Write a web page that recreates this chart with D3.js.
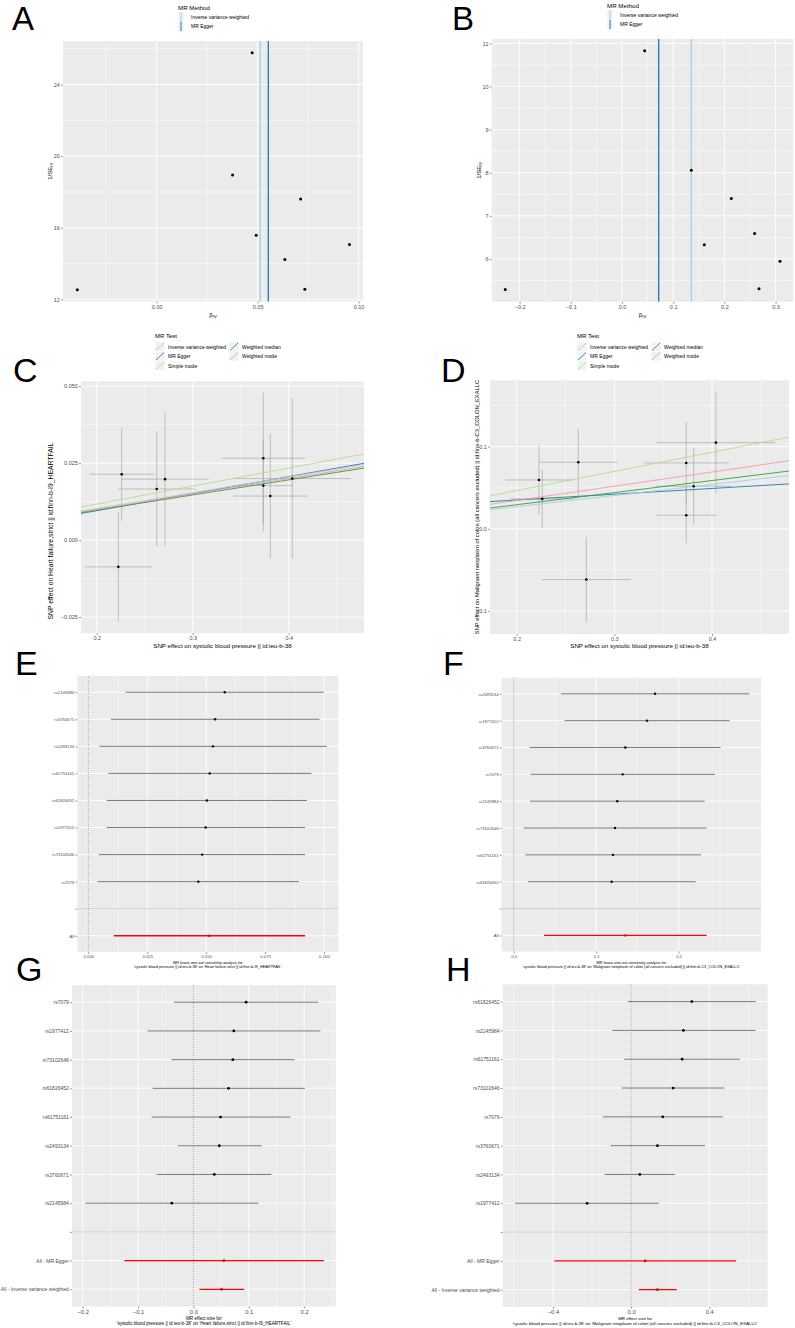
<!DOCTYPE html>
<html><head><meta charset="utf-8">
<script src="https://cdn.jsdelivr.net/npm/d3@7"></script>
<style>
body{margin:0;background:#fff}
svg{display:block}
text{font-family:"Liberation Sans",Arial,Helvetica,sans-serif}
</style>
</head><body>
<script>
// ================= DATA =================
const methods = ["Inverse variance weighted","MR Egger","Simple mode","Weighted median","Weighted mode"];
const methodColors = ["#a6cee3","#1f78b4","#b2df8a","#33a02c","#fb9a99"];

// Panel A funnel (Heart failure)
const funnelA_beta  = [-0.0393, 0.0473, 0.0376, 0.0713, 0.0493, 0.0635, 0.0734, 0.0955];
const funnelA_invSE = [12.54, 25.77, 18.95, 17.61, 15.58, 14.22, 12.56, 15.06];
const funnelA_methodBeta = [0.0513, 0.0553];   // IVW, MR Egger
// Panel B funnel (colon)
const funnelB_beta  = [-0.228, 0.0443, 0.1354, 0.2135, 0.259, 0.1608, 0.3086, 0.2676];
const funnelB_invSE = [5.29, 10.83, 8.06, 7.40, 6.59, 6.33, 5.95, 5.31];
const funnelB_methodBeta = [0.1354, 0.0717];

// Panel C scatter
const scatterC_bx  = [0.226, 0.2225, 0.2625, 0.2711, 0.3735, 0.3735, 0.3808, 0.4037];
const scatterC_seX = [0.033, 0.035, 0.040, 0.0455, 0.0434, 0.031, 0.0386, 0.0607];
const scatterC_by  = [0.0214, -0.0087, 0.0166, 0.0198, 0.0266, 0.0177, 0.0143, 0.0200];
const scatterC_seY = [0.015, 0.0178, 0.0186, 0.0218, 0.0213, 0.0148, 0.0202, 0.026];
const scatterC_intercept = [0, -0.0015, 0, 0, 0];
const scatterC_slope     = [0.0513, 0.0553, 0.0585, 0.0489, 0.0500];
// Panel D scatter
const scatterD_bx  = [0.2228, 0.2262, 0.2631, 0.2713, 0.3736, 0.3736, 0.3812, 0.404];
const scatterD_seX = [0.035, 0.033, 0.040, 0.0457, 0.0433, 0.031, 0.0386, 0.0607];
const scatterD_by  = [0.0595, 0.0365, 0.081, -0.0616, 0.0802, 0.0166, 0.0519, 0.1049];
const scatterD_seY = [0.0415, 0.0354, 0.0408, 0.0519, 0.0502, 0.034, 0.0466, 0.0617];
const scatterD_intercept = [0, 0.0211, 0, 0, 0];
const scatterD_slope     = [0.1354, 0.0702, 0.233, 0.147, 0.173];

// Panel E leave-one-out (Heart failure)
const looE_snp = ["rs2145984","rs3760671","rs2493134","rs61751161","rs61826452","rs1977412","rs73102646","rs7079","","All"];
const looE_b   = [0.0579, 0.0538, 0.0529, 0.0515, 0.0503, 0.0498, 0.0483, 0.0467, null, 0.0513];
const looE_lo  = [0.0159, 0.0096, 0.0047, 0.0085, 0.0078, 0.0078, 0.0045, 0.0038, null, 0.0108];
const looE_hi  = [0.1000, 0.0981, 0.1012, 0.0947, 0.0928, 0.0920, 0.0920, 0.0894, null, 0.0920];
// Panel F leave-one-out (colon)
const looF_snp = ["rs2493134","rs1977412","rs3760671","rs7079","rs2145984","rs73102646","rs61751161","rs61826452","","All"];
const looF_b   = [0.1713, 0.1616, 0.1353, 0.1321, 0.1256, 0.1228, 0.1204, 0.1188, null, 0.1353];
const looF_lo  = [0.0573, 0.0618, 0.0194, 0.0206, 0.0198, 0.0121, 0.0141, 0.0173, null, 0.0367];
const looF_hi  = [0.2856, 0.2618, 0.2509, 0.2440, 0.2315, 0.2339, 0.2270, 0.2206, null, 0.2339];
// Panel G single-SNP forest (Heart failure)
const forestG_snp = ["rs7079","rs1977412","rs73102646","rs61826452","rs61751161","rs2493134","rs3760671","rs2145984","","All - MR Egger","All - Inverse variance weighted"];
const forestG_b  = [0.0953, 0.0730, 0.0712, 0.0635, 0.0491, 0.0468, 0.0378, -0.0390, null, 0.0551, 0.0509];
const forestG_lo = [-0.0349, -0.0827, -0.0396, -0.0737, -0.0755, -0.0282, -0.0660, -0.1950, null, -0.1248, 0.0108];
const forestG_hi = [0.2259, 0.2295, 0.1827, 0.2014, 0.1755, 0.1234, 0.1408, 0.1174, null, 0.2356, 0.0917];
// Panel H single-SNP forest (colon)
const forestH_snp = ["rs61826452","rs2145984","rs61751161","rs73102646","rs7079","rs3760671","rs2493134","rs1977412","","All - MR Egger","All - Inverse variance weighted"];
const forestH_b  = [0.3104, 0.2677, 0.2609, 0.2148, 0.1619, 0.1347, 0.0443, -0.2250, null, 0.0716, 0.1347];
const forestH_lo = [-0.0170, -0.0972, -0.0358, -0.0477, -0.1449, -0.1057, -0.1347, -0.5934, null, -0.3922, 0.0392];
const forestH_hi = [0.6380, 0.6360, 0.5575, 0.4774, 0.4706, 0.3785, 0.2251, 0.1415, null, 0.5370, 0.2336];

// tick values
const ticksA = {xMaj:[0,0.05,0.1], xMin:[-0.025,0.025,0.075], yMaj:[12,16,20,24], yMin:[14,18,22,26]};
const ticksB = {xMaj:[-0.2,-0.1,0,0.1,0.2,0.3], xMin:[-0.25,-0.15,-0.05,0.05,0.15,0.25], yMaj:[6,7,8,9,10,11], yMin:[5.5,6.5,7.5,8.5,9.5,10.5]};
const ticksC = {xMaj:[0.2,0.3,0.4], xMin:[0.25,0.35,0.45], yMaj:[-0.025,0,0.025,0.05], yMin:[-0.0125,0.0125,0.0375]};
const ticksD = {xMaj:[0.2,0.3,0.4], xMin:[0.25,0.35,0.45], yMaj:[-0.1,0,0.1], yMin:[-0.05,0.05,0.15]};
const ticksE = {xMaj:[0,0.025,0.05,0.075,0.1], xMin:[0.0125,0.0375,0.0625,0.0875]};
const ticksF = {xMaj:[0,0.1,0.2], xMin:[0.05,0.15,0.25]};
const ticksG = {xMaj:[-0.2,-0.1,0,0.1,0.2], xMin:[-0.15,-0.05,0.05,0.15,0.25]};
const ticksH = {xMaj:[-0.4,0,0.4], xMin:[-0.6,-0.2,0.2,0.6]};

// ================= LAYOUT =================
const L = {
  A:{x0:63,x1:363,y0:41,y1:301.5, xd:[-0.0464,0.1022], yd:[11.88,26.43]},
  B:{x0:491.7,x1:793.3,y0:39,y1:301.7, xd:[-0.2545,0.3346], yd:[5.01,11.1]},
  C:{x0:81,x1:364,y0:381.3,y1:633, xd:[0.1836,0.4784], yd:[-0.0302,0.0516]},
  D:{x0:490,x1:789,y0:380.2,y1:634, xd:[0.1727,0.4788], yd:[-0.1278,0.1808]},
  E:{x0:77.3,x1:338.3,y0:676,y1:952, xd:[-0.0047,0.1061]},
  F:{x0:501.7,x1:761,y0:677.7,y1:951.5, xd:[-0.0145,0.2998]},
  G:{x0:72,x1:335.7,y0:985,y1:1306.5, xd:[-0.2192,0.257]},
  H:{x0:502.7,x1:767.7,y0:984.3,y1:1307, xd:[-0.657,0.6987]}
};
const BG="#EBEBEB", GRID="#FFFFFF", TICKC="#333333", LABC="#4D4D4D";

const svg = d3.select("body").append("svg").attr("width",795).attr("height",1328);
svg.append("rect").attr("width",795).attr("height",1328).attr("fill","#fff");

function text(g,x,y,s,o={}){
  const t=g.append("text").attr("x",x).attr("y",y).text(s)
    .attr("font-size",o.size||6).attr("fill",o.fill||"#000")
    .attr("text-anchor",o.anchor||"start").attr("dominant-baseline",o.base||"central");
  if(o.rotate) t.attr("transform",`rotate(-90,${x},${y})`);
  return t;
}

function frame(g, r, xs, ys, t, o){
  g.append("rect").attr("x",r.x0).attr("y",r.y0).attr("width",r.x1-r.x0).attr("height",r.y1-r.y0).attr("fill",BG);
  const vl=(v,w)=>g.append("line").attr("x1",xs(v)).attr("x2",xs(v)).attr("y1",r.y0).attr("y2",r.y1).attr("stroke",GRID).attr("stroke-width",w);
  const hl=(v,w)=>g.append("line").attr("y1",ys(v)).attr("y2",ys(v)).attr("x1",r.x0).attr("x2",r.x1).attr("stroke",GRID).attr("stroke-width",w);
  (t.xMin||[]).forEach(v=>vl(v,0.45));
  (t.yMin||[]).forEach(v=>hl(v,0.45));
  (t.xMaj||[]).forEach(v=>vl(v,0.9));
  (o.yMajVals||t.yMaj||[]).forEach(v=>hl(v,0.9));
  const ax=g.append("g").attr("transform",`translate(0,${r.y1})`)
    .call(d3.axisBottom(xs).tickValues(t.xMaj).tickFormat(o.fx).tickSize(2).tickSizeOuter(0).tickPadding(o.xpad||1.2));
  ax.select(".domain").remove();
  ax.selectAll("line").attr("stroke",TICKC).attr("stroke-width",0.5);
  ax.selectAll("text").attr("font-size",o.xfs).attr("fill",LABC).attr("font-family",'"Liberation Sans",Arial,sans-serif');
  const ay=g.append("g").attr("transform",`translate(${r.x0},0)`)
    .call(d3.axisLeft(ys).tickValues(o.yMajVals||t.yMaj).tickFormat(o.fy).tickSize(2).tickSizeOuter(0).tickPadding(1.2));
  ay.select(".domain").remove();
  ay.selectAll("line").attr("stroke",TICKC).attr("stroke-width",0.5);
  ay.selectAll("text").attr("font-size",o.yfs).attr("fill",LABC).attr("font-family",'"Liberation Sans",Arial,sans-serif');
}

function clipFor(id,r){
  svg.append("clipPath").attr("id",id).append("rect").attr("x",r.x0).attr("y",r.y0).attr("width",r.x1-r.x0).attr("height",r.y1-r.y0);
}

// ---------- Funnel panels ----------
function funnel(key, beta, invse, mb, t, fmtX, fmtY){
  const r=L[key], g=svg.append("g");
  const xs=d3.scaleLinear().domain(r.xd).range([r.x0,r.x1]);
  const ys=d3.scaleLinear().domain(r.yd).range([r.y1,r.y0]);
  frame(g,r,xs,ys,t,{fx:fmtX,fy:fmtY,xfs:5.5,yfs:5.5});
  mb.forEach((b,i)=>g.append("line").attr("x1",xs(b)).attr("x2",xs(b)).attr("y1",r.y0).attr("y2",r.y1)
     .attr("stroke",methodColors[i]).attr("stroke-width",1.3));
  g.selectAll("circle.p").data(beta).enter().append("circle")
    .attr("cx",(d)=>xs(d)).attr("cy",(d,i)=>ys(invse[i])).attr("r",1.5).attr("fill","#000");
  const cx=(r.x0+r.x1)/2, cy=(r.y0+r.y1)/2;
  const xt=g.append("text").attr("x",cx).attr("y",r.y1+13).attr("text-anchor","middle").attr("font-size",6).attr("dominant-baseline","central");
  xt.append("tspan").text("β");
  xt.append("tspan").text("IV").attr("font-size",4.2).attr("dy",1.3);
  const yx=r.x0-13;
  const yt=g.append("text").attr("x",yx).attr("y",cy).attr("text-anchor","middle").attr("font-size",6).attr("dominant-baseline","central")
    .attr("transform",`rotate(-90,${yx},${cy})`);
  yt.append("tspan").text("1/SE");
  yt.append("tspan").text("IV").attr("font-size",4.2).attr("dy",1.3);
}
const f2=d=>d3.format(".2f")(d), f1=d=>d3.format(".1f")(d), f3=d=>d3.format(".3f")(d), f0=d=>d3.format("d")(d);
funnel("A",funnelA_beta,funnelA_invSE,funnelA_methodBeta,ticksA,f2,f0);
funnel("B",funnelB_beta,funnelB_invSE,funnelB_methodBeta,ticksB,f1,f0);

function funnelLegend(x,y){
  const g=svg.append("g");
  text(g,x,y,"MR Method",{size:6.2});
  ["Inverse variance weighted","MR Egger"].forEach((m,i)=>{
    const ky=y+5+i*9.6;
    g.append("rect").attr("x",x).attr("y",ky).attr("width",6).attr("height",9.6).attr("fill","#F2F2F2").attr("stroke","#fff").attr("stroke-width",0.4);
    g.append("line").attr("x1",x+3).attr("x2",x+3).attr("y1",ky).attr("y2",ky+9.6).attr("stroke",methodColors[i]).attr("stroke-width",1);
    text(g,x+13,ky+4.8,m,{size:5,fill:"#000"});
  });
}
funnelLegend(178,7);
funnelLegend(607,5);

// ---------- Scatter panels ----------
function scatter(key,bx,seX,by,seY,ints,slopes,t,fmtY,clipId){
  const r=L[key], g=svg.append("g");
  const xs=d3.scaleLinear().domain(r.xd).range([r.x0,r.x1]);
  const ys=d3.scaleLinear().domain(r.yd).range([r.y1,r.y0]);
  frame(g,r,xs,ys,t,{fx:f1,fy:fmtY,xfs:5.5,yfs:5.5});
  clipFor(clipId,r);
  const cg=g.append("g").attr("clip-path",`url(#${clipId})`);
  bx.forEach((x,i)=>{
    cg.append("line").attr("x1",xs(x)).attr("x2",xs(x)).attr("y1",ys(by[i]-seY[i])).attr("y2",ys(by[i]+seY[i])).attr("stroke","#A0A0A0").attr("stroke-width",0.6);
    cg.append("line").attr("y1",ys(by[i])).attr("y2",ys(by[i])).attr("x1",xs(x-seX[i])).attr("x2",xs(x+seX[i])).attr("stroke","#A0A0A0").attr("stroke-width",0.6);
  });
  [1,3,0,2,4].forEach(i=>{
    const x0=r.xd[0], x1=r.xd[1];
    cg.append("line").attr("x1",xs(x0)).attr("x2",xs(x1))
      .attr("y1",ys(ints[i]+slopes[i]*x0)).attr("y2",ys(ints[i]+slopes[i]*x1))
      .attr("stroke",methodColors[i]).attr("stroke-width",0.9);
  });
  cg.selectAll("circle").data(bx).enter().append("circle").attr("cx",d=>xs(d)).attr("cy",(d,i)=>ys(by[i])).attr("r",1.3).attr("fill","#000");
  return g;
}
const gC=scatter("C",scatterC_bx,scatterC_seX,scatterC_by,scatterC_seY,scatterC_intercept,scatterC_slope,ticksC,f3,"clipC");
const gD=scatter("D",scatterD_bx,scatterD_seX,scatterD_by,scatterD_seY,scatterD_intercept,scatterD_slope,ticksD,f1,"clipD");
text(gC,(L.C.x0+L.C.x1)/2,645,"SNP effect on systolic blood pressure || id:ieu-b-38",{size:6.2,anchor:"middle"});
text(gD,(L.D.x0+L.D.x1)/2,645,"SNP effect on systolic blood pressure || id:ieu-b-38",{size:6.2,anchor:"middle"});
text(gC,50,531,"SNP effect on Heart failure,strict || id:finn-b-I9_HEARTFAIL",{size:6.8,anchor:"middle",rotate:true});
text(gD,476.5,507,"SNP effect on Malignant neoplasm of colon (all cancers excluded) || id:finn-b-C3_COLON_EXALLC",{size:5.8,anchor:"middle",rotate:true});

function scatterLegend(x,y,x2){
  const g=svg.append("g");
  text(g,x,y,"MR Test",{size:6});
  methods.forEach((m,i)=>{
    const col=i<3?0:1, row=i<3?i:i-3;
    const kx=col?x2:x, ky=y+6+row*9.5;
    g.append("rect").attr("x",kx).attr("y",ky).attr("width",10).attr("height",9.5).attr("fill","#F2F2F2").attr("stroke","#fff").attr("stroke-width",0.4);
    g.append("line").attr("x1",kx+1).attr("x2",kx+9).attr("y1",ky+8.5).attr("y2",ky+1).attr("stroke",methodColors[i]).attr("stroke-width",0.9);
    text(g,kx+13,ky+4.75,m,{size:5});
  });
}
scatterLegend(155,336,229);
scatterLegend(577,336,651);

// ---------- Forest panels ----------
function forest(key,snp,b,lo,hi,t,fmtX,o){
  const r=L[key], g=svg.append("g");
  const xs=d3.scaleLinear().domain(r.xd).range([r.x0,r.x1]);
  const idx=snp.map((d,i)=>i);
  const ys=d3.scalePoint().domain(idx).range([r.y0,r.y1]).padding(0.6);
  frame(g,r,xs,ys,t,{fx:fmtX,fy:i=>snp[i],xfs:o.xfs,yfs:o.yfs,yMajVals:idx});
  const blank=snp.indexOf("");
  g.append("line").attr("x1",r.x0).attr("x2",r.x1).attr("y1",ys(blank)).attr("y2",ys(blank)).attr("stroke","#BEBEBE").attr("stroke-width",0.7);
  g.append("line").attr("x1",xs(0)).attr("x2",xs(0)).attr("y1",r.y0).attr("y2",r.y1).attr("stroke","#444").attr("stroke-width",0.6).attr("stroke-dasharray","0.8,1.2");
  idx.forEach(i=>{
    if(b[i]===null) return;
    const isAll=snp[i].startsWith("All");
    g.append("line").attr("x1",xs(lo[i])).attr("x2",xs(hi[i])).attr("y1",ys(i)).attr("y2",ys(i))
      .attr("stroke",isAll?"#FF0000":"#5A5A5A").attr("stroke-width",isAll?1.3:0.8);
    g.append("circle").attr("cx",xs(b[i])).attr("cy",ys(i)).attr("r",o.pr).attr("fill",isAll?"#E00000":"#000");
  });
  return g;
}
const gE=forest("E",looE_snp,looE_b,looE_lo,looE_hi,ticksE,f3,{xfs:4.3,yfs:4.2,pr:1.2});
const gF=forest("F",looF_snp,looF_b,looF_lo,looF_hi,ticksF,f1,{xfs:4.3,yfs:4.2,pr:1.2});
const gG=forest("G",forestG_snp,forestG_b,forestG_lo,forestG_hi,ticksG,f1,{xfs:5.8,yfs:5,pr:1.4});
const gH=forest("H",forestH_snp,forestH_b,forestH_lo,forestH_hi,ticksH,f1,{xfs:5.8,yfs:5,pr:1.4});

const expo="'systolic blood pressure || id:ieu-b-38'";
const outHF="'Heart failure,strict || id:finn-b-I9_HEARTFAIL'";
const outCC="'Malignant neoplasm of colon (all cancers excluded) || id:finn-b-C3_COLON_EXALLC'";
function xTitle2(g,cx,y1,y2,l1,l2,fs){
  text(g,cx,y1,l1,{size:fs,anchor:"middle"});
  text(g,cx,y2,l2,{size:fs,anchor:"middle"});
}
xTitle2(gE,(L.E.x0+L.E.x1)/2,962,966.6,"MR leave-one-out sensitivity analysis for",expo+" on "+outHF,3.9);
xTitle2(gF,(L.F.x0+L.F.x1)/2,962,966.6,"MR leave-one-out sensitivity analysis for",expo+" on "+outCC,3.9);
xTitle2(gG,(L.G.x0+L.G.x1)/2,1318.3,1323.4,"MR effect size for",expo+" on "+outHF,4.6);
xTitle2(gH,(L.H.x0+L.H.x1)/2,1318.6,1323.8,"MR effect size for",expo+" on "+outCC,4.4);

// ---------- Panel letters ----------
const letters=[["A",12,30,33],["B",452,30,33],["C",13,382,34],["D",441,382,34],["E",15,675,34],["F",443,675,34],["G",16,981,34],["H",446,981,34]];
letters.forEach(([s,x,y,fs])=>svg.append("text").attr("x",x).attr("y",y).attr("font-size",fs).attr("fill","#000").text(s));
</script>
</body></html>
